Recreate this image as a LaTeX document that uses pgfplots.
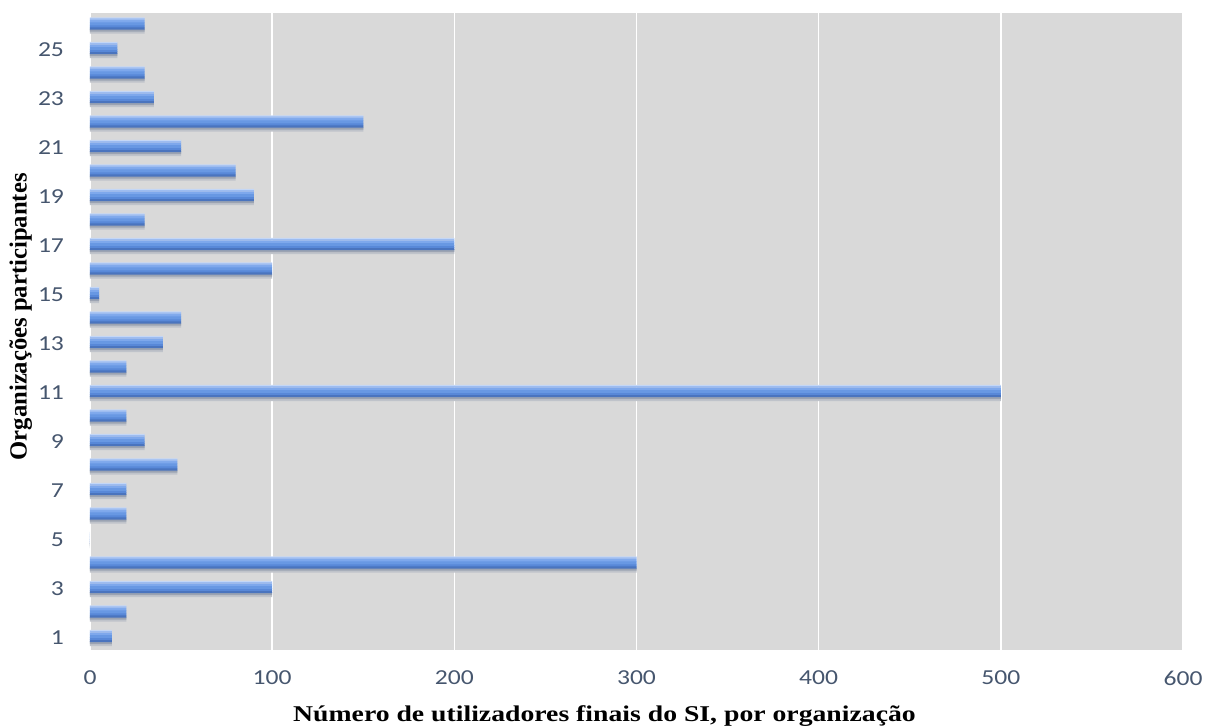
\documentclass[border=0pt]{standalone}
\usepackage{pgfplots}
\usepackage{pgfplotstable}
\pgfplotsset{compat=1.18}
\usepackage{fontspec}
\setmainfont{Carlito}[FakeStretch=1.2]
\newfontfamily\xlabfont{Liberation Serif}[FakeStretch=1.23]
\newfontfamily\ylabfont{Liberation Serif}
\definecolor{plotbg}{HTML}{D9D9D9}
\definecolor{ticktext}{HTML}{46566E}
\definecolor{shadowlight}{HTML}{BFC3CA}
\definecolor{shadowdark}{HTML}{9BA3B2}
\definecolor{barA}{HTML}{4A74BE}
\definecolor{barB}{HTML}{5888D8}
\definecolor{barC}{HTML}{6898E3}
\definecolor{barD}{HTML}{7EA8EC}
\definecolor{barE}{HTML}{9DBCF0}
\definecolor{barF}{HTML}{C4D7F6}

% users per organisation
\pgfplotstableread{
cat val
1   12
2   20
3   100
4   300
5   0
6   20
7   20
8   48
9   30
10  20
11  500
12  20
13  40
14  50
15  5
16  100
17  200
18  30
19  90
20  80
21  50
22  150
23  35
24  30
25  15
26  30
}\usersdata

% one horizontal stripe of every bar: #1 offset of its centre, #2 its thickness, #3 colour
\newcommand\stripe[3]{%
  \addplot[xbar, draw=none, fill=#3, bar width=#2pt, bar shift=#1pt]
    table[x=val, y=cat] {\usersdata};%
}
\begin{document}
\begin{tikzpicture}
\useasboundingbox (-67.5pt,-57pt) rectangle (840pt,487.5pt);
\begin{axis}[
  scale only axis,
  width=819.75pt, height=477.75pt,
  xmin=0, xmax=600, ymin=0.5, ymax=26.5,
  xtick={0,100,...,600},
  ytick={1,3,...,25},
  major tick length=0pt,
  axis line style={draw=none},
  axis background/.style={fill=plotbg},
  xmajorgrids, major grid style={white, line width=1.2pt},
  /pgf/number format/assume math mode=true,
  tick label style={font=\fontsize{16}{19}\selectfont, text=ticktext},
  xticklabel style={yshift=-12pt},
  yticklabel style={xshift=-16pt},
  xlabel={N\'umero de utilizadores finais do SI, por organiza\c{c}\~ao},
  ylabel={Organiza\c{c}\~oes participantes},
  xlabel style={font=\xlabfont\bfseries\fontsize{16.9}{19}\selectfont, text=black,
    at={(axis description cs:0.5,0)}, yshift=-38pt, xshift=-24pt},
  ylabel style={font=\ylabfont\bfseries\fontsize{18.5}{20}\selectfont, text=black,
    at={(axis description cs:0,0.5)}, yshift=40pt, xshift=11pt},
]
% soft shadow under the bars
\stripe{-4.4}{3.6}{shadowlight}
\stripe{-3.7}{2.2}{shadowdark}
% bar body, dark at the bottom to light at the top
\stripe{-2.2}{2.0}{barA}
\stripe{-0.7}{1.8}{barB}
\stripe{1.15}{2.5}{barC}
\stripe{3.05}{1.9}{barD}
\stripe{4.6}{1.6}{barE}
\stripe{5.6}{0.8}{barF}
\end{axis}
\end{tikzpicture}
\end{document}
